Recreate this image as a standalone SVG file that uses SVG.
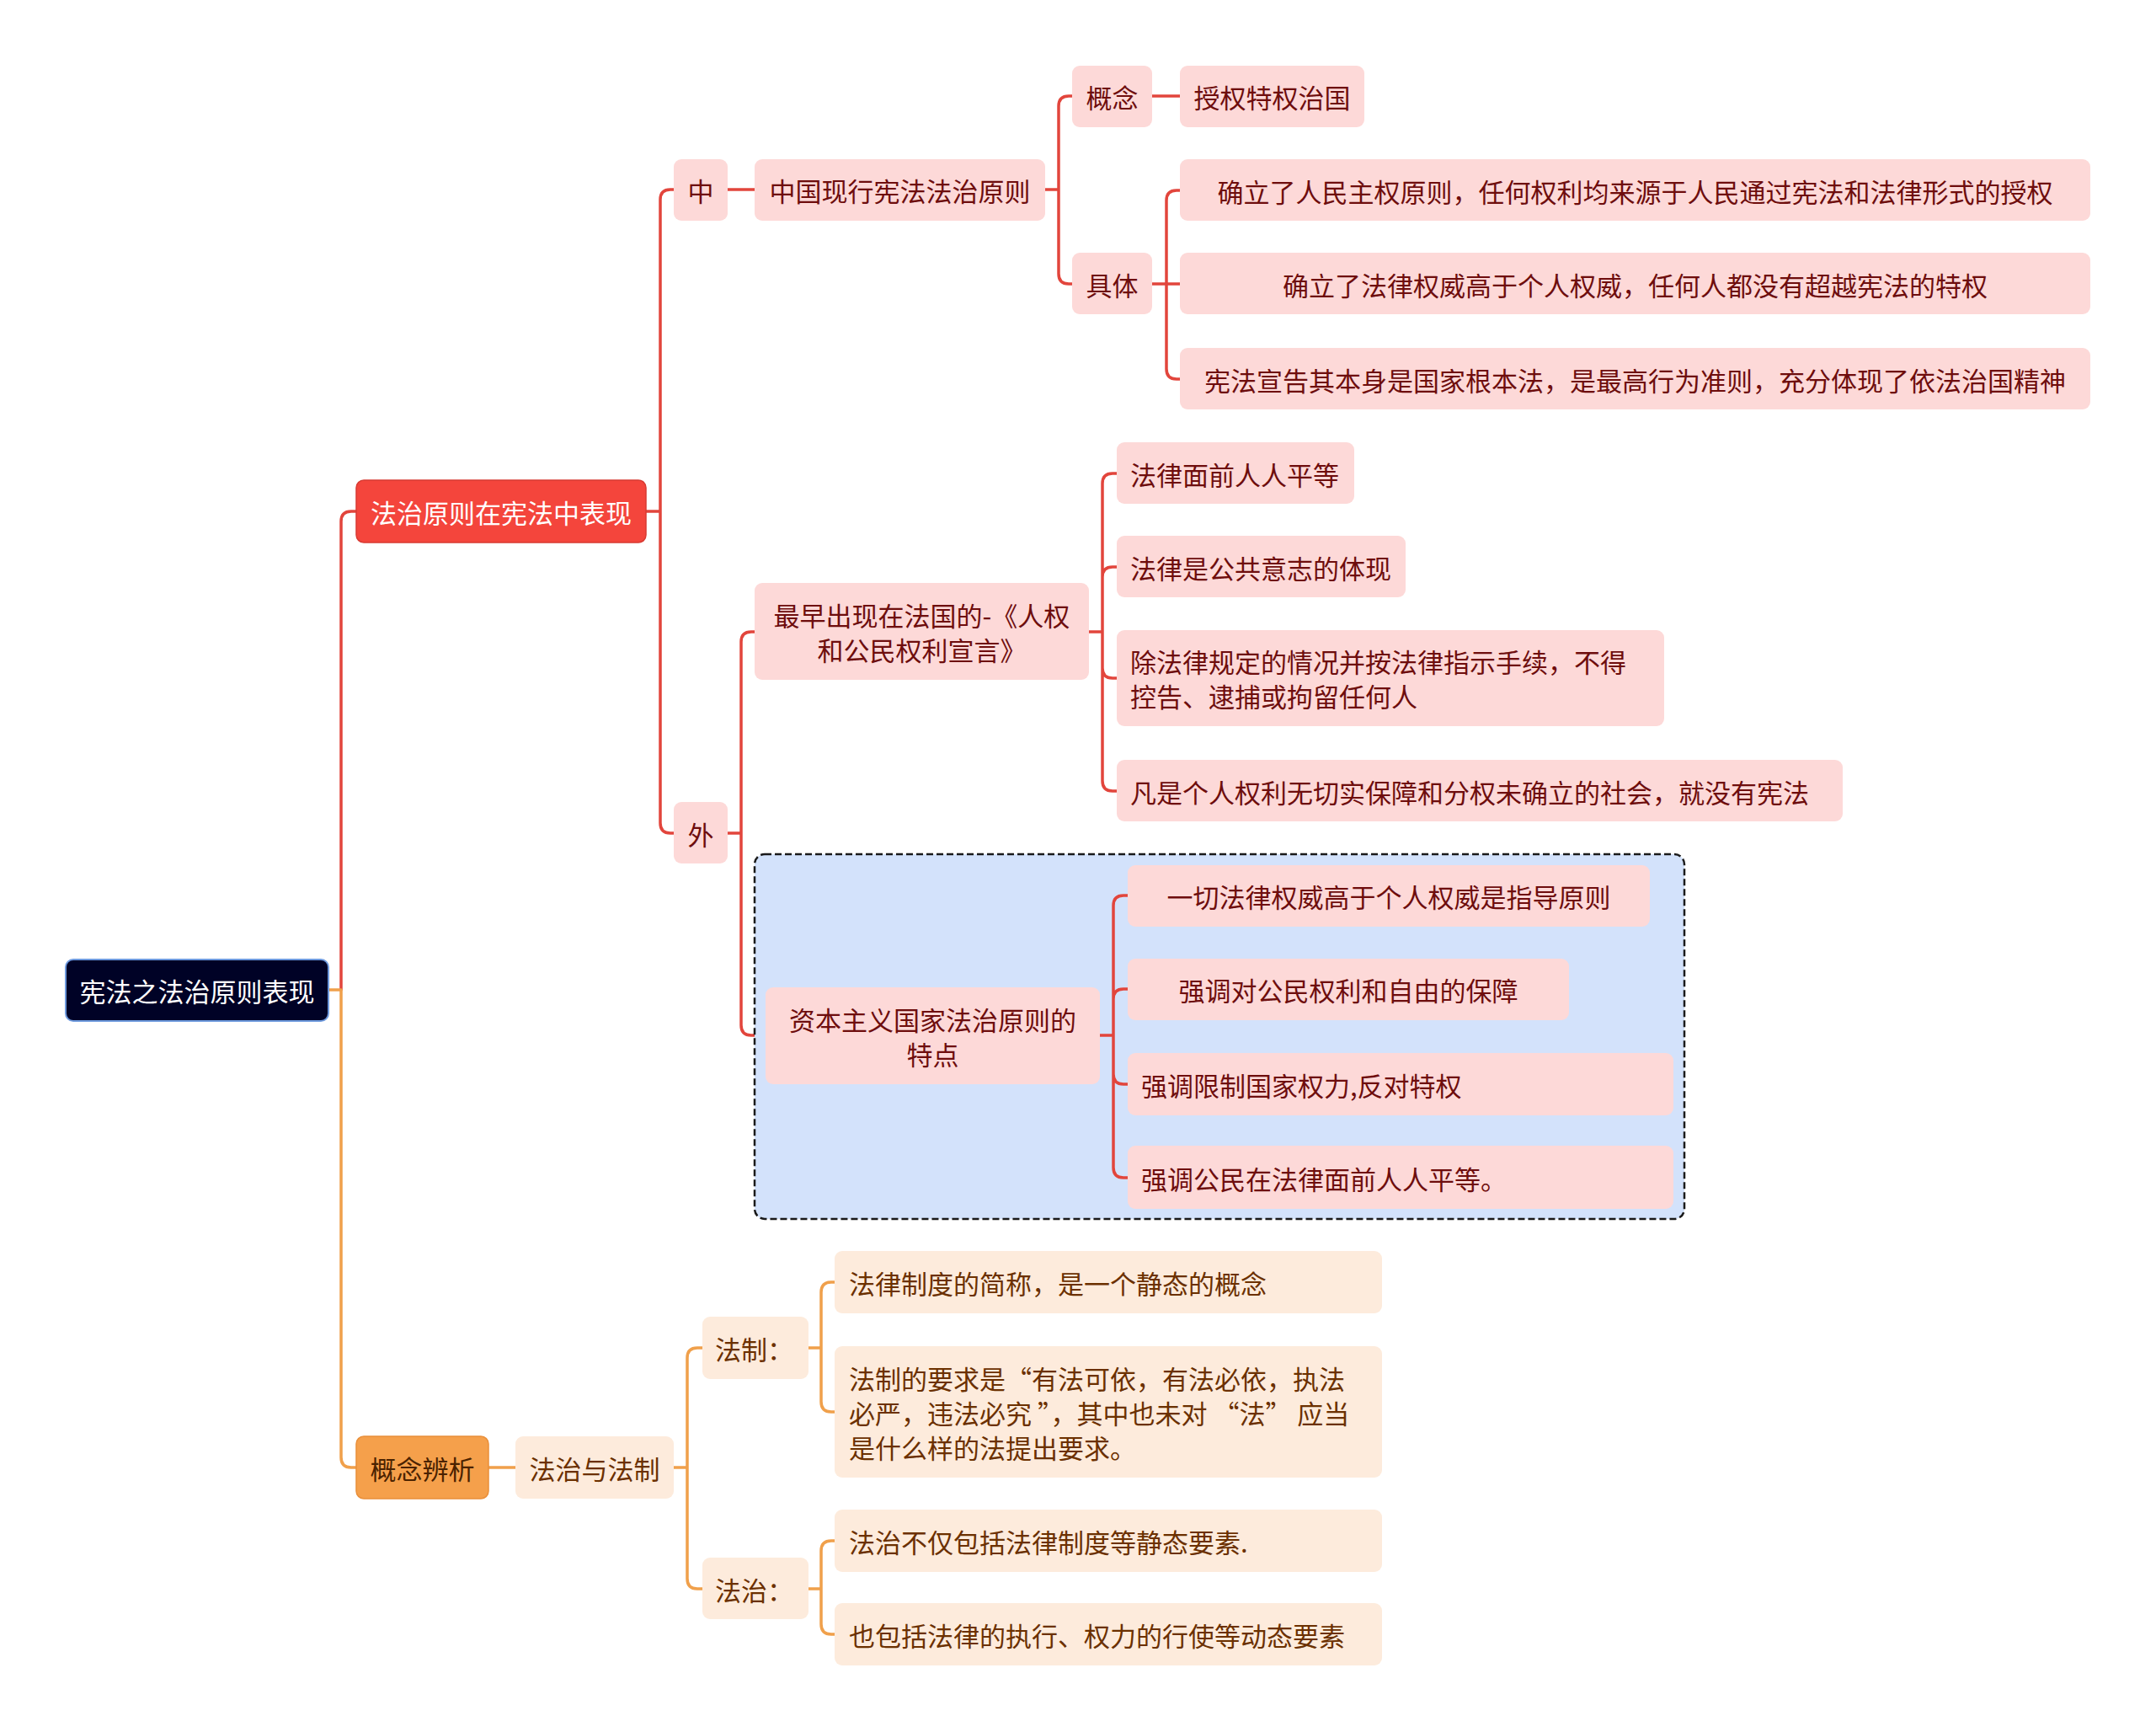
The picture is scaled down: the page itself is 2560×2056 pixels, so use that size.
<svg xmlns="http://www.w3.org/2000/svg" width="2560" height="2056" viewBox="0 0 2560 2056">
<style>
text{font-family:"Noto Sans CJK SC","Noto Sans",sans-serif;font-size:31px;dominant-baseline:central}
.c{text-anchor:middle}
.l{text-anchor:start}
.pk{fill:#fdd9d8}
.pc{fill:#fdebdc}
.tr{fill:#6e0d0d}
.tb{fill:#6b3000}
.tw{fill:#ffffff}
.cr{fill:none;stroke:#e2453c;stroke-width:3.5;stroke-linecap:round}
.co{fill:none;stroke:#f0a04b;stroke-width:3.5;stroke-linecap:round}
</style>
<rect width="2560" height="2056" fill="#ffffff"/>
<g id="connectors">
<path class="cr" d="M405,1175 V619 Q405,607 417,607 H423"/>
<path class="co" d="M390,1175 H405 M405,1175 V1730 Q405,1742 417,1742 H423"/>
<path class="cr" d="M767,607 H784 M784,607 V237 Q784,225 796,225 H800 M784,607 V977 Q784,989 796,989 H800"/>
<path class="cr" d="M864,225 H896"/>
<path class="cr" d="M1241,225 H1257 M1257,225 V126 Q1257,114 1269,114 H1273 M1257,225 V325 Q1257,337 1269,337 H1273"/>
<path class="cr" d="M1368,114 H1401"/>
<path class="cr" d="M1368,337 H1401 M1385,337 V238 Q1385,226 1397,226 H1401 M1385,337 V438 Q1385,450 1397,450 H1401"/>
<path class="cr" d="M864,989 H880 M880,989 V762 Q880,750 892,750 H896 M880,989 V1217 Q880,1229 892,1229 H909"/>
<path class="cr" d="M1293,750 H1309 M1309,750 V574 Q1309,562 1321,562 H1326 M1309,750 V685 Q1309,673 1321,673 H1326 M1309,750 V793 Q1309,805 1321,805 H1326 M1309,750 V927 Q1309,939 1321,939 H1326"/>
<path class="co" d="M580,1742 H612"/>
<path class="co" d="M800,1742 H816 M816,1742 V1612 Q816,1600 828,1600 H834 M816,1742 V1874 Q816,1886 828,1886 H834"/>
<path class="co" d="M960,1600 H975 M975,1600 V1534 Q975,1522 987,1522 H991 M975,1600 V1664 Q975,1676 987,1676 H991"/>
<path class="co" d="M960,1886 H975 M975,1886 V1841 Q975,1829 987,1829 H991 M975,1886 V1928 Q975,1940 987,1940 H991"/>
</g>
<g id="group-box">
<rect x="896" y="1014" width="1104" height="433" rx="12" fill="#d3e2fb" stroke="#1a1a1a" stroke-width="2.5" stroke-dasharray="8,4"/>
</g>
<g id="connectors-inner">
<path class="cr" d="M1306,1229 H1322 M1322,1229 V1075 Q1322,1063 1334,1063 H1339 M1322,1229 V1186 Q1322,1174 1334,1174 H1339 M1322,1229 V1275 Q1322,1287 1334,1287 H1339 M1322,1229 V1386 Q1322,1398 1334,1398 H1339"/>
</g>
<g id="root"><rect x="78" y="1139" width="312" height="73" rx="9" fill="#000226" stroke="#6d99dd" stroke-width="2"/><text class="c tw" x="234" y="1175">宪法之法治原则表现</text></g>
<g id="n-fazhi-xianfa"><rect x="423" y="570" width="344" height="74" rx="9" fill="#f4453c" stroke="#d83a32" stroke-width="1.5"/><text class="c tw" x="595" y="607">法治原则在宪法中表现</text></g>
<g id="n-gainian-bianxi"><rect x="423" y="1705" width="157" height="74" rx="9" fill="#f5a04b" stroke="#e98f3a" stroke-width="1.5"/><text class="c" fill="#4a2200" x="501.5" y="1742">概念辨析</text></g>
<g id="n-zhong"><rect class="pk" x="800" y="189" width="64" height="73" rx="9"/><text class="c tr" x="832" y="225">中</text></g>
<g id="n-wai"><rect class="pk" x="800" y="952" width="64" height="73" rx="9"/><text class="c tr" x="832" y="989">外</text></g>
<g id="n-zhongguo"><rect class="pk" x="896" y="189" width="345" height="73" rx="9"/><text class="c tr" x="1068.5" y="225">中国现行宪法法治原则</text></g>
<g id="n-gainian"><rect class="pk" x="1273" y="78" width="95" height="73" rx="9"/><text class="c tr" x="1320.5" y="114">概念</text></g>
<g id="n-shouquan"><rect class="pk" x="1401" y="78" width="219" height="73" rx="9"/><text class="c tr" x="1510.5" y="114">授权特权治国</text></g>
<g id="n-juti"><rect class="pk" x="1273" y="300" width="95" height="73" rx="9"/><text class="c tr" x="1320.5" y="337">具体</text></g>
<g id="n-juti-1"><rect class="pk" x="1401" y="189" width="1081" height="73" rx="9"/><text class="c tr" x="1941.5" y="226">确立了人民主权原则，任何权利均来源于人民通过宪法和法律形式的授权</text></g>
<g id="n-juti-2"><rect class="pk" x="1401" y="300" width="1081" height="73" rx="9"/><text class="c tr" x="1941.5" y="337">确立了法律权威高于个人权威，任何人都没有超越宪法的特权</text></g>
<g id="n-juti-3"><rect class="pk" x="1401" y="413" width="1081" height="73" rx="9"/><text class="c tr" x="1941.5" y="450">宪法宣告其本身是国家根本法，是最高行为准则，充分体现了依法治国精神</text></g>
<g id="n-zuizao"><rect class="pk" x="896" y="692" width="397" height="115" rx="9"/><text class="c tr" x="1094.5" y="729.5">最早出现在法国的-《人权</text><text class="c tr" x="1094.5" y="770.5">和公民权利宣言》</text></g>
<g id="n-zuizao-1"><rect class="pk" x="1326" y="525" width="282" height="73" rx="9"/><text class="l tr" x="1342" y="562">法律面前人人平等</text></g>
<g id="n-zuizao-2"><rect class="pk" x="1326" y="636" width="343" height="73" rx="9"/><text class="l tr" x="1342" y="673">法律是公共意志的体现</text></g>
<g id="n-zuizao-3"><rect class="pk" x="1326" y="748" width="650" height="114" rx="9"/><text class="l tr" x="1342" y="784.5">除法律规定的情况并按法律指示手续，不得</text><text class="l tr" x="1342" y="825.5">控告、逮捕或拘留任何人</text></g>
<g id="n-zuizao-4"><rect class="pk" x="1326" y="902" width="862" height="73" rx="9"/><text class="l tr" x="1342" y="939">凡是个人权利无切实保障和分权未确立的社会，就没有宪法</text></g>
<g id="n-ziben"><rect class="pk" x="909" y="1172" width="397" height="115" rx="9"/><text class="c tr" x="1107.5" y="1209">资本主义国家法治原则的</text><text class="c tr" x="1107.5" y="1250">特点</text></g>
<g id="n-ziben-1"><rect class="pk" x="1339" y="1027" width="620" height="73" rx="9"/><text class="c tr" x="1649" y="1063">一切法律权威高于个人权威是指导原则</text></g>
<g id="n-ziben-2"><rect class="pk" x="1339" y="1138" width="524" height="73" rx="9"/><text class="c tr" x="1601" y="1174">强调对公民权利和自由的保障</text></g>
<g id="n-ziben-3"><rect class="pk" x="1339" y="1250" width="648" height="74" rx="9"/><text class="l tr" x="1355" y="1287">强调限制国家权力,反对特权</text></g>
<g id="n-ziben-4"><rect class="pk" x="1339" y="1360" width="648" height="75" rx="9"/><text class="l tr" x="1355" y="1398">强调公民在法律面前人人平等。</text></g>
<g id="n-fazhi-fazhi"><rect class="pc" x="612" y="1705" width="188" height="74" rx="9"/><text class="c tb" x="706" y="1742">法治与法制</text></g>
<g id="n-fazhi-zhi"><rect class="pc" x="834" y="1563" width="126" height="74" rx="9"/><text class="l tb" x="849" y="1600">法制：</text></g>
<g id="n-fazhi-zhi2"><rect class="pc" x="834" y="1849" width="126" height="73" rx="9"/><text class="l tb" x="849" y="1886">法治：</text></g>
<g id="n-fz-1"><rect class="pc" x="991" y="1485" width="650" height="74" rx="9"/><text class="l tb" x="1008" y="1522">法律制度的简称，是一个静态的概念</text></g>
<g id="n-fz-2"><rect class="pc" x="991" y="1598" width="650" height="156" rx="9"/><text class="l tb" x="1008" y="1635">法制的要求是“有法可依，有法必依，执法</text><text class="l tb" x="1008" y="1676">必严，违法必究 ”，其中也未对 “法” 应当</text><text class="l tb" x="1008" y="1717">是什么样的法提出要求。</text></g>
<g id="n-fz-3"><rect class="pc" x="991" y="1792" width="650" height="74" rx="9"/><text class="l tb" x="1008" y="1829">法治不仅包括法律制度等静态要素.</text></g>
<g id="n-fz-4"><rect class="pc" x="991" y="1903" width="650" height="74" rx="9"/><text class="l tb" x="1008" y="1940">也包括法律的执行、权力的行使等动态要素</text></g>
</svg>
